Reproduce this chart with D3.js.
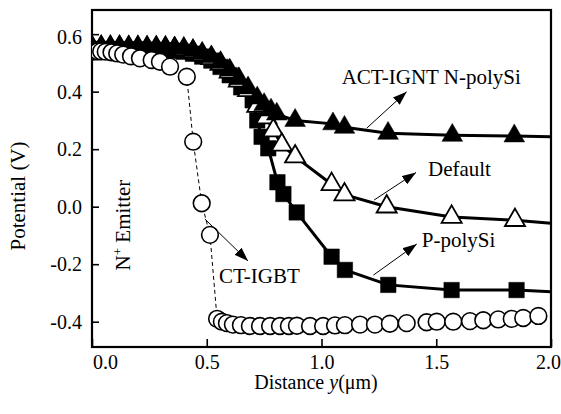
<!DOCTYPE html>
<html>
<head>
<meta charset="utf-8">
<script src="https://cdn.jsdelivr.net/npm/d3@7"></script>
<style>
  body { margin: 0; background: #fff; }
  svg text { font-family: "Liberation Serif", "Times New Roman", serif; fill: #000; }
</style>
</head>
<body>
<svg id="chart" width="561" height="414"></svg>
<script>
// ACT-IGNT N-polySi (filled triangles)
const actX = [0, 0.04, 0.08, 0.12, 0.16, 0.20, 0.24, 0.28, 0.32, 0.36, 0.40, 0.44, 0.48, 0.52, 0.56, 0.60, 0.64, 0.68, 0.72, 0.75, 0.78, 0.805, 0.885, 1.05, 1.10, 1.29, 1.57, 1.84, 2.0];
const actV = [0.556, 0.557, 0.557, 0.557, 0.556, 0.556, 0.555, 0.555, 0.554, 0.552, 0.550, 0.543, 0.533, 0.521, 0.501, 0.475, 0.445, 0.413, 0.378, 0.355, 0.336, 0.322, 0.300, 0.288, 0.276, 0.255, 0.248, 0.246, 0.243];

// Default (open triangles)
const defX = [0, 0.04, 0.08, 0.12, 0.16, 0.20, 0.24, 0.28, 0.32, 0.36, 0.40, 0.44, 0.48, 0.52, 0.56, 0.60, 0.64, 0.68, 0.72, 0.76, 0.79, 0.827, 0.885, 1.044, 1.10, 1.284, 1.567, 1.843, 2.0];
const defV = [0.553, 0.553, 0.553, 0.553, 0.552, 0.552, 0.551, 0.551, 0.550, 0.548, 0.546, 0.539, 0.529, 0.516, 0.496, 0.469, 0.438, 0.405, 0.350, 0.310, 0.265, 0.215, 0.174, 0.078, 0.042, 0.000, -0.036, -0.047, -0.058];

// P-polySi (filled squares)
const ppX = [0, 0.04, 0.08, 0.12, 0.16, 0.20, 0.24, 0.28, 0.32, 0.36, 0.40, 0.44, 0.48, 0.52, 0.56, 0.60, 0.65, 0.70, 0.72, 0.739, 0.768, 0.808, 0.834, 0.892, 1.044, 1.102, 1.291, 1.567, 1.85, 2.0];
const ppV = [0.548, 0.548, 0.548, 0.548, 0.547, 0.547, 0.546, 0.545, 0.544, 0.542, 0.539, 0.532, 0.522, 0.508, 0.486, 0.457, 0.415, 0.370, 0.300, 0.243, 0.203, 0.085, 0.044, -0.020, -0.174, -0.220, -0.272, -0.290, -0.290, -0.296];

// CT-IGBT (open circles, dashed)
const ctX = [0, 0.012, 0.025, 0.04, 0.06, 0.085, 0.11, 0.136, 0.17, 0.209, 0.26, 0.296, 0.34, 0.413, 0.441, 0.478, 0.514, 0.545, 0.566, 0.588, 0.614, 0.649, 0.688, 0.732, 0.776, 0.819, 0.858, 0.893, 0.95, 1.007, 1.059, 1.102, 1.168, 1.233, 1.298, 1.371, 1.458, 1.502, 1.574, 1.647, 1.705, 1.77, 1.829, 1.879, 1.945];
const ctV = [0.540, 0.540, 0.540, 0.540, 0.539, 0.537, 0.533, 0.529, 0.523, 0.516, 0.510, 0.504, 0.487, 0.452, 0.226, 0.012, -0.098, -0.390, -0.400, -0.405, -0.410, -0.412, -0.415, -0.415, -0.415, -0.415, -0.415, -0.414, -0.415, -0.415, -0.413, -0.412, -0.410, -0.410, -0.407, -0.405, -0.402, -0.400, -0.400, -0.398, -0.395, -0.392, -0.390, -0.387, -0.380];

// ticks
const xTicks = [0, 0.5, 1.0, 1.5, 2.0];
const yTicks = [-0.4, -0.2, 0.0, 0.2, 0.4, 0.6];

// annotations (data units)
const labelText = ["ACT-IGNT N-polySi", "Default", "P-polySi", "CT-IGBT"];
const labelPos = [[1.088, 0.427], [1.464, 0.107], [1.437, -0.139], [0.553, -0.266]];
const arrowFrom = [[1.197, 0.273], [1.229, 0.023], [1.226, -0.238], [0.492, -0.043]];
const arrowTo = [[1.371, 0.400], [1.412, 0.119], [1.415, -0.130], [0.680, -0.189]];
const emitterPos = [0.165, -0.064];

const svg = d3.select("#chart");
const mLeft = 92, mRight = 551, mTop = 10, mBottom = 347;

const x = d3.scaleLinear().domain([0, 2]).range([mLeft, mRight]);
const y = d3.scaleLinear().domain([-0.488, 0.684]).range([mBottom, mTop]);

const defs = svg.append("defs");
defs.append("clipPath").attr("id", "plotclip")
  .append("rect").attr("x", mLeft).attr("y", mTop)
  .attr("width", mRight - mLeft).attr("height", mBottom - mTop);

defs.append("marker")
  .attr("id", "arrow")
  .attr("markerUnits", "userSpaceOnUse")
  .attr("viewBox", "0 0 14 10")
  .attr("refX", 14).attr("refY", 5)
  .attr("markerWidth", 14).attr("markerHeight", 10)
  .attr("orient", "auto")
  .append("path").attr("d", "M0,0 L14,5 L0,10 Z").attr("fill", "#000");

// axes
const yAxis = d3.axisLeft(y).tickValues(yTicks).tickSizeInner(-7).tickSizeOuter(0)
  .tickPadding(10).tickFormat(d => d.toFixed(1));
const xAxis = d3.axisBottom(x).tickValues(xTicks).tickSizeInner(-8).tickSizeOuter(0)
  .tickPadding(8).tickFormat(d => d.toFixed(1));

const gy = svg.append("g").attr("transform", `translate(${mLeft},0)`).call(yAxis);
const gx = svg.append("g").attr("transform", `translate(0,${mBottom})`).call(xAxis);
[gx, gy].forEach(g => {
  g.select(".domain").remove();
  g.selectAll("line").attr("stroke", "#000").attr("stroke-width", 1.6);
  g.selectAll("text").attr("font-size", 20);
});
gx.selectAll(".tick").filter(d => d === 0).select("text").attr("dx", 13);
gx.selectAll(".tick").filter(d => d === 2).select("text").attr("dx", -3);
gy.selectAll(".tick").filter(d => d === 0.6).select("text").attr("dy", "0.47em");

// frame
svg.append("rect").attr("x", mLeft).attr("y", mTop)
  .attr("width", mRight - mLeft).attr("height", mBottom - mTop)
  .attr("fill", "none").attr("stroke", "#000").attr("stroke-width", 2.2);

const plot = svg.append("g").attr("clip-path", "url(#plotclip)");
const line = d3.line().x(d => x(d[0])).y(d => y(d[1]));
const zip = (xs, vs) => xs.map((v, i) => [v, vs[i]]);

function drawSeries(xs, vs, opts) {
  const pts = zip(xs, vs);
  plot.append("path").datum(pts).attr("d", line)
    .attr("fill", "none").attr("stroke", "#000")
    .attr("stroke-width", opts.lw)
    .attr("stroke-dasharray", opts.dash || null);
  plot.selectAll(null).data(pts.filter(d => d[0] < 1.99)).enter()
    .append("path")
    .attr("transform", d => `translate(${x(d[0])},${y(d[1])})`)
    .attr("d", d3.symbol().type(opts.type).size(opts.size))
    .attr("fill", opts.fill).attr("stroke", "#000").attr("stroke-width", opts.sw);
}

drawSeries(ppX, ppV, { lw: 3, type: d3.symbolSquare, size: 240, fill: "#000", sw: 0.5 });
drawSeries(defX, defV, { lw: 3, type: d3.symbolTriangle, size: 175, fill: "#fff", sw: 1.8 });
drawSeries(actX, actV, { lw: 3, type: d3.symbolTriangle, size: 185, fill: "#000", sw: 0.5 });
drawSeries(ctX, ctV, { lw: 1, dash: "4,3", type: d3.symbolCircle, size: 220, fill: "#fff", sw: 1.6 });

// arrows
svg.selectAll(".arrow").data(arrowFrom).enter().append("line")
  .attr("class", "arrow")
  .attr("x1", d => x(d[0])).attr("y1", d => y(d[1]))
  .attr("x2", (d, i) => x(arrowTo[i][0])).attr("y2", (d, i) => y(arrowTo[i][1]))
  .attr("stroke", "#000").attr("stroke-width", 1)
  .attr("marker-end", "url(#arrow)");

// labels
svg.selectAll(".lbl").data(labelText).enter().append("text")
  .attr("class", "lbl")
  .attr("x", (d, i) => x(labelPos[i][0])).attr("y", (d, i) => y(labelPos[i][1]))
  .attr("font-size", 21).text(d => d);

const em = svg.append("text")
  .attr("transform", `translate(${x(emitterPos[0])},${y(emitterPos[1])}) rotate(-90)`)
  .attr("text-anchor", "middle").attr("font-size", 21);
em.append("tspan").text("N");
em.append("tspan").attr("font-size", 13).attr("dy", -8).text("+");
em.append("tspan").attr("dy", 8).text(" Emitter");

// axis titles
const xt = svg.append("text").attr("x", 316).attr("y", 389)
  .attr("text-anchor", "middle").attr("font-size", 20);
xt.append("tspan").text("Distance ");
xt.append("tspan").attr("font-style", "italic").text("y");
xt.append("tspan").text("(\u03bcm)");

svg.append("text")
  .attr("transform", "translate(25,196) rotate(-90)")
  .attr("text-anchor", "middle").attr("font-size", 21)
  .text("Potential (V)");
</script>
</body>
</html>
